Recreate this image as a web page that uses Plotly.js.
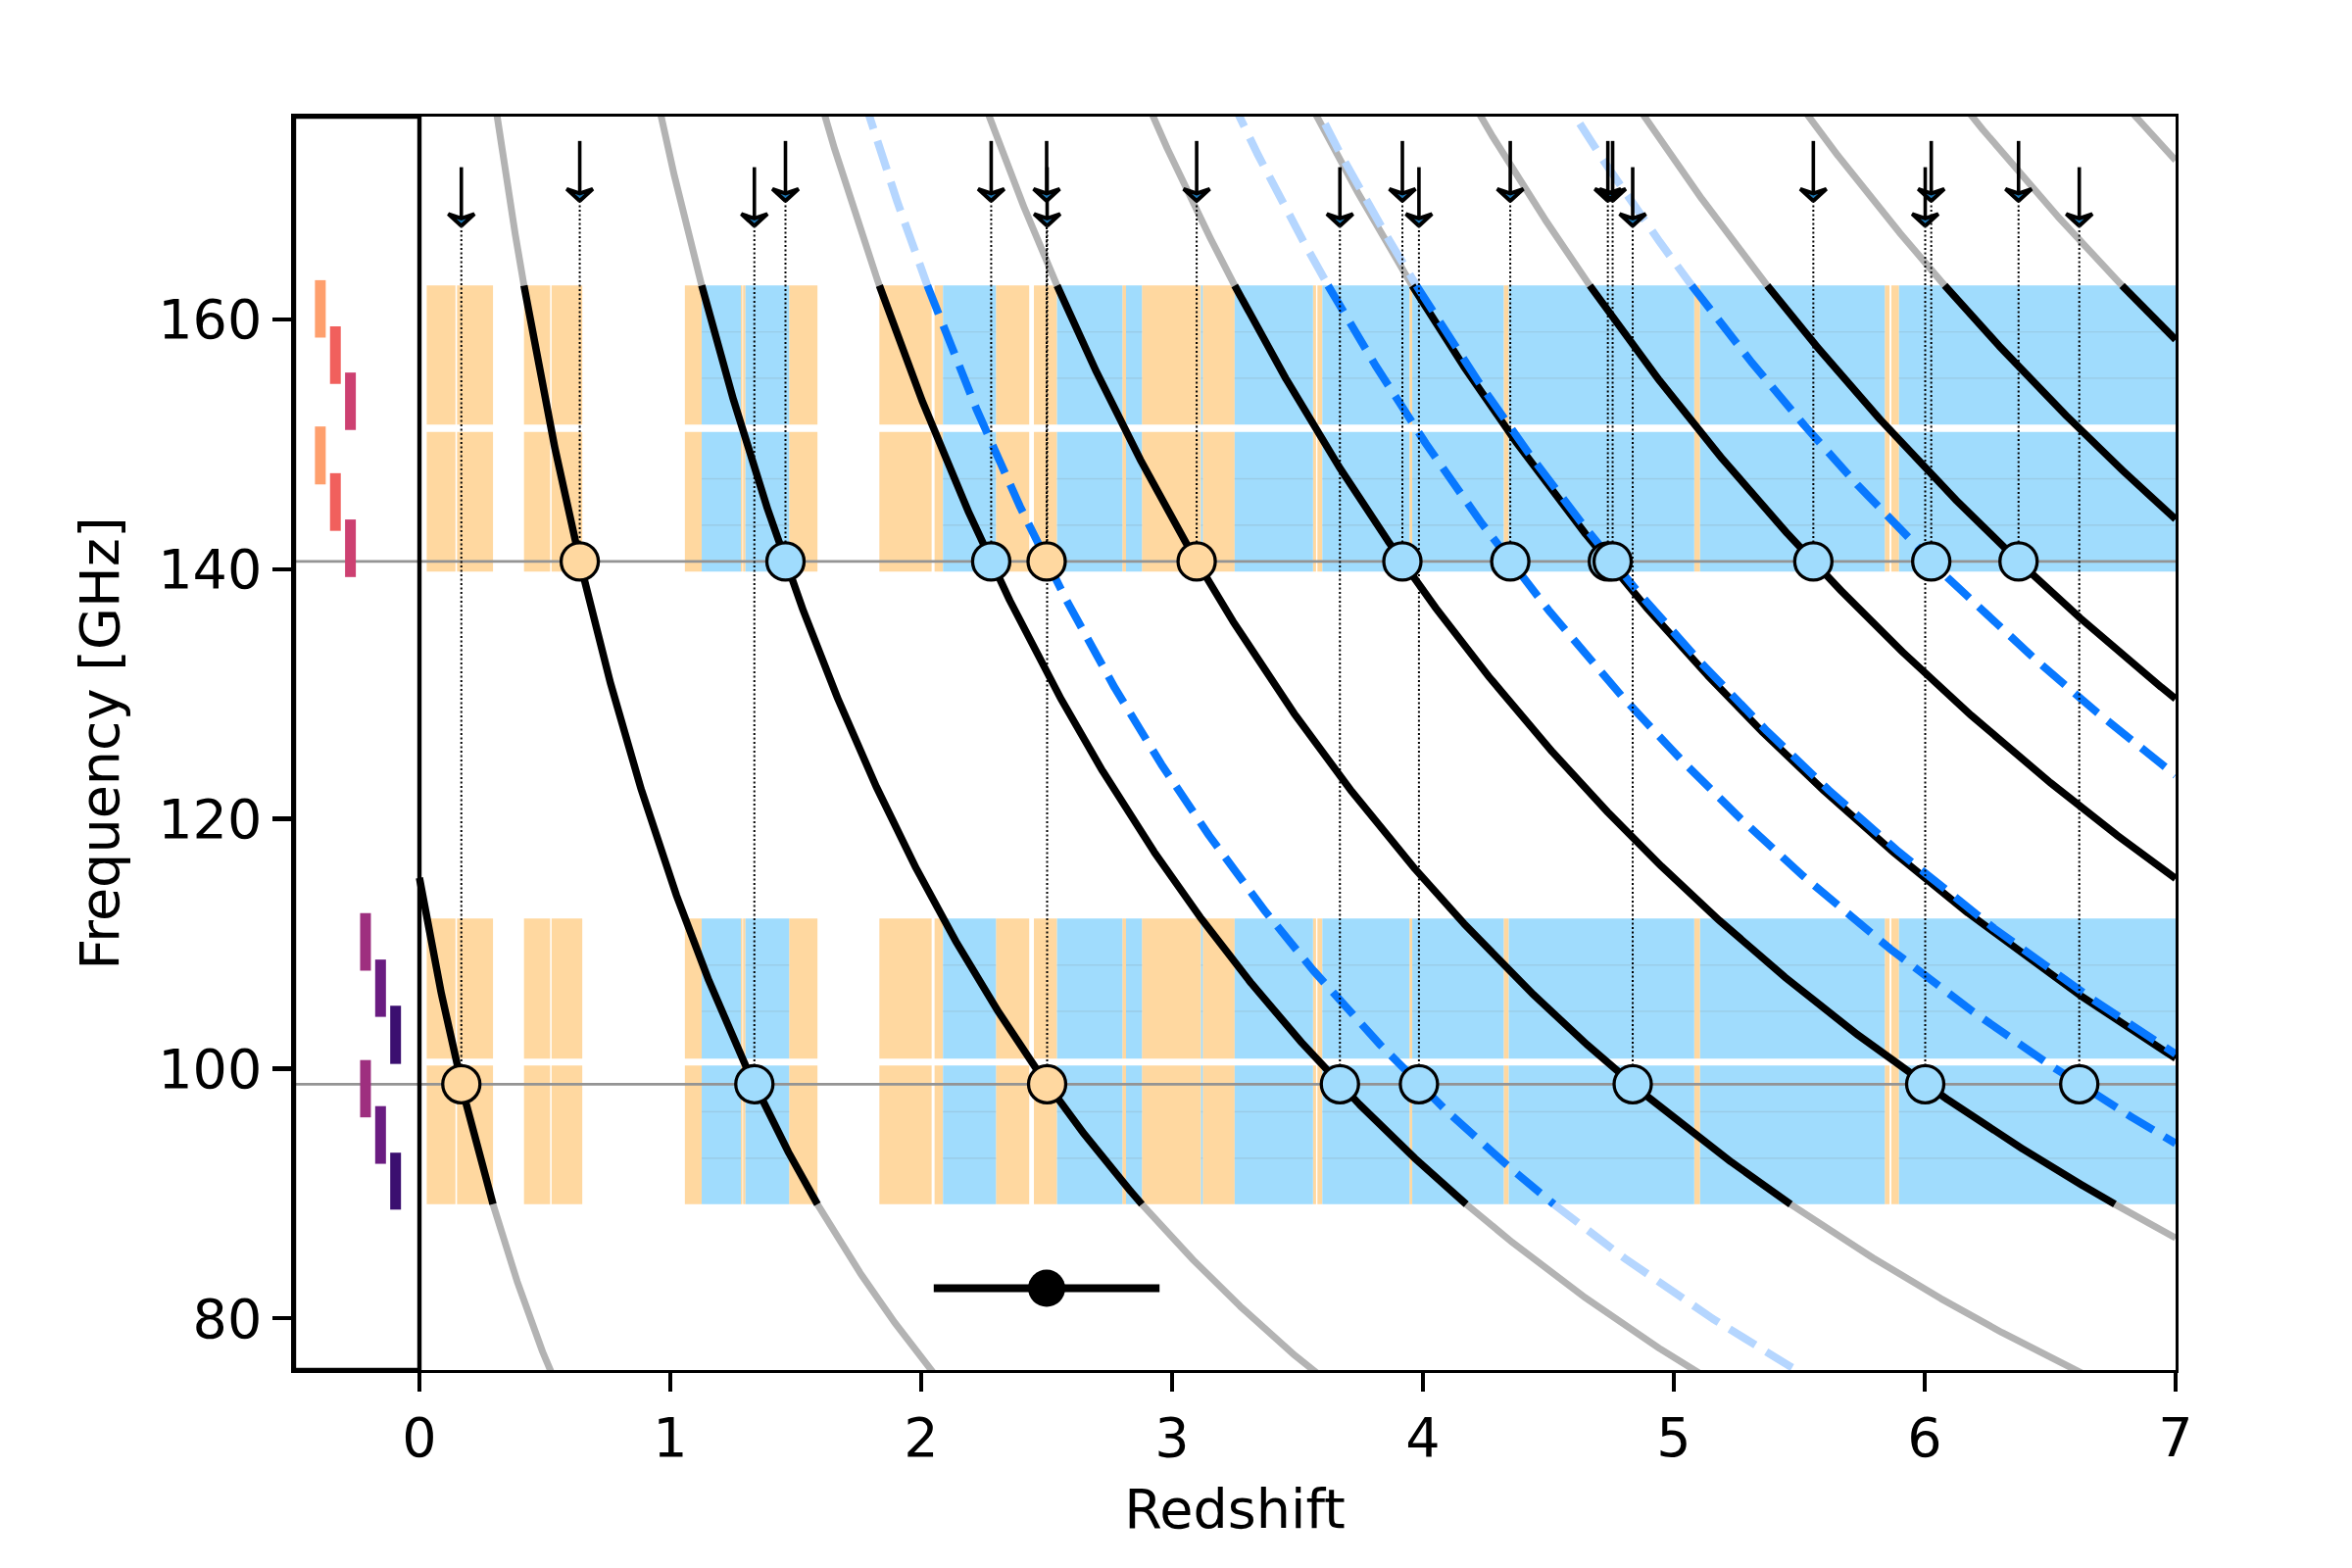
<!DOCTYPE html>
<html>
<head>
<meta charset="utf-8">
<script src="https://cdn.plot.ly/plotly-3.0.1.min.js"></script>
<style>html,body{margin:0;padding:0;background:#ffffff;}</style>
</head>
<body>
<div id="chart" style="width:2400px;height:1600px;"></div>
<script>
// ---------------- data ----------------
// CO ladder rest frequencies [GHz] (solid lines, used for colouring the coverage)
const coNames = ['CO(1-0)','CO(2-1)','CO(3-2)','CO(4-3)','CO(5-4)','CO(6-5)','CO(7-6)','CO(8-7)','CO(9-8)','CO(10-9)','CO(11-10)','CO(12-11)','CO(13-12)'];
const coRest  = [115.271, 230.538, 345.796, 461.041, 576.268, 691.473, 806.652, 921.800, 1036.912, 1151.985, 1267.014, 1381.995, 1496.923];
// other lines (dashed)
const otherNames = ['[CI](1-0)','H2O(211-202)','[CI](2-1)','H2O(202-111)'];
const otherRest  = [492.161, 752.033, 809.342, 987.927];
// spectral tunings: lower and upper sideband frequency ranges [GHz]
const tuningLSB = [[147.22,151.00],[143.50,147.26],[139.80,143.55],[96.52,100.25],[92.80,96.56],[89.13,92.83]];
const tuningUSB = [[158.98,162.72],[155.27,159.02],[151.58,155.32],[108.27,112.02],[104.57,108.30],[100.80,104.60]];
const tuningColors = ['#fe9f6d','#f1605d','#cd4071','#9e2f7f','#6a1c81','#3b0f70'];
// detected lines: observed frequencies and the redshift solutions at each
const obsFreq = [140.62, 98.75];
const zAtHigh = [0.639, 1.459, 2.279, 2.500, 3.098, 3.918, 4.348, 4.737, 4.756, 5.556, 6.026, 6.374];
const zAtLow  = [0.167, 1.335, 2.502, 3.669, 3.984, 4.836, 6.002, 6.616];
// photometric redshift
const photZ = [2.5];
const photZerr = [0.45];
const photFreq = [82.4];

// ---------------- styling ----------------
const ORANGE = '#ffd8a0', BLUE = '#a0dcfd';
const XMIN = -0.5, XMAX = 7, YMIN = 75.85, YMAX = 176.25;
const FS = 55.6;

// merged coverage windows
const allWins = tuningLSB.concat(tuningUSB).map(w => w.slice()).sort((a,b)=>a[0]-b[0]);
const windows = [];
for (const w of allWins) {
  if (windows.length && w[0] <= windows[windows.length-1][1] + 1e-6) {
    windows[windows.length-1][1] = Math.max(windows[windows.length-1][1], w[1]);
  } else windows.push(w.slice());
}
const fMin = Math.min(...windows.map(w=>w[0]));
const fMax = Math.max(...windows.map(w=>w[1]));
// internal tuning boundaries (inside merged windows)
const innerEdges = [];
for (const w of allWins) {
  for (const e of w) {
    if (!windows.some(m => Math.abs(m[0]-e) < 1e-6 || Math.abs(m[1]-e) < 1e-6)) innerEdges.push(e);
  }
}

function lineCount(z) {
  let n = 0;
  for (const nu0 of coRest) {
    const nu = nu0/(1+z);
    for (const w of windows) if (nu >= w[0] && nu <= w[1]) n++;
  }
  return n;
}

// redshift segments
let bps = [0, XMAX];
for (const nu0 of coRest) for (const w of windows) {
  for (const f of w) { const z = nu0/f - 1; if (z > 0 && z < XMAX) bps.push(z); }
}
bps.sort((a,b)=>a-b);
const segs = [];
for (let i=0;i<bps.length-1;i++) {
  const p=bps[i], q=bps[i+1];
  if (q-p < 1e-9) continue;
  const n = lineCount((p+q)/2);
  const c = n===0 ? null : (n===1 ? 'o' : 'b');
  if (segs.length && segs[segs.length-1].c === c && Math.abs(segs[segs.length-1].q - p) < 1e-9) segs[segs.length-1].q = q;
  else segs.push({p,q,c});
}

const traces = [];
function rectTrace(col, key) {
  const x=[], y=[];
  for (const s of segs) if (s.c===key) for (const w of windows) {
    x.push(s.p,s.q,s.q,s.p,s.p,null); y.push(w[0],w[0],w[1],w[1],w[0],null);
  }
  return {type:'scatter',mode:'lines',x,y,fill:'toself',fillcolor:col,line:{width:0,color:col},hoverinfo:'skip'};
}
traces.push(rectTrace(ORANGE,'o'));
traces.push(rectTrace(BLUE,'b'));
// faint tuning boundaries over blue
{
  const x=[], y=[];
  for (const s of segs) if (s.c==='b') for (const e of innerEdges) { x.push(s.p,s.q,null); y.push(e,e,null); }
  traces.push({type:'scatter',mode:'lines',x,y,line:{width:1.2,color:'rgba(150,185,205,0.3)'},hoverinfo:'skip'});
}
// horizontal lines at observed frequencies
{
  const x=[], y=[];
  for (const f of obsFreq) { x.push(XMIN,XMAX,null); y.push(f,f,null); }
  traces.push({type:'scatter',mode:'lines',x,y,line:{width:2.7,color:'#949494'},hoverinfo:'skip'});
}
// tuning bars in the left panel
const cap = 0.43;
for (let i=0;i<tuningLSB.length;i++) {
  const bx = -0.395 + 0.06*i;
  const L = tuningLSB[i], U = tuningUSB[i];
  traces.push({type:'scatter',mode:'lines',
    x:[bx,bx,null,bx,bx], y:[L[0]-cap,L[1]+cap,null,U[0]-cap,U[1]+cap],
    line:{width:11,color:tuningColors[i]},hoverinfo:'skip'});
}

// curves
function zGrid(nu0) {
  const zs = [];
  for (let k=0;k<=3500;k++) zs.push(k*0.002);
  for (const f of [fMin,fMax]) { const z = nu0/f-1; if (z>0 && z<XMAX) zs.push(z); }
  zs.sort((a,b)=>a-b);
  return zs;
}
function curvePair(nu0) {
  const zs = zGrid(nu0);
  const xi=[], yi=[], xo=[], yo=[];
  let prevIn = null, prevOut = null;
  for (const z of zs) {
    const nu = nu0/(1+z);
    const inside = nu >= fMin-1e-9 && nu <= fMax+1e-9;
    const outside = nu >= fMax-1e-9 || nu <= fMin+1e-9;
    if (inside) { xi.push(z); yi.push(nu); } else if (prevIn) { xi.push(null); yi.push(null); }
    if (outside && nu < 400) { xo.push(z); yo.push(nu); } else if (prevOut) { xo.push(null); yo.push(null); }
    prevIn = inside; prevOut = outside && nu < 400;
  }
  return {xi,yi,xo,yo};
}
const greyTraces=[], blackTraces=[], lightDash=[], darkDash=[];
for (const nu0 of coRest) {
  const c = curvePair(nu0);
  greyTraces.push({type:'scatter',mode:'lines',x:c.xo,y:c.yo,line:{width:7,color:'#b3b3b3'},hoverinfo:'skip'});
  blackTraces.push({type:'scatter',mode:'lines',x:c.xi,y:c.yi,line:{width:7.5,color:'#000000'},hoverinfo:'skip'});
}
for (const nu0 of otherRest) {
  const c = curvePair(nu0);
  lightDash.push({type:'scatter',mode:'lines',x:c.xo,y:c.yo,line:{width:8,color:'#b5d6ff',dash:'31px,13px'},hoverinfo:'skip'});
  darkDash.push({type:'scatter',mode:'lines',x:c.xi,y:c.yi,line:{width:8,color:'#0878ff',dash:'31px,13px'},hoverinfo:'skip'});
}
traces.push(...greyTraces, ...lightDash, ...blackTraces, ...darkDash);

// arrows + dotted drop lines
const arrowRows = [{top:174.3, tip:169.5}, {top:172.2, tip:167.5}];
const headH = 0.95, headW = 0.052;
const srcSets = [zAtHigh, zAtLow];
{
  const dx=[], dy=[], sx=[], sy=[], hx=[], hy=[];
  srcSets.forEach((zs, r) => {
    const row = arrowRows[r];
    for (const z of zs) {
      dx.push(z,z,null); dy.push(row.tip, obsFreq[r], null);
      sx.push(z,z,null); sy.push(row.top, row.tip+0.3, null);
      hx.push(z, z-headW, z, z+headW, z, null);
      hy.push(row.tip, row.tip+headH, row.tip+0.62*headH, row.tip+headH, row.tip, null);
    }
  });
  traces.push({type:'scatter',mode:'lines',x:dx,y:dy,line:{width:2,color:'#000000',dash:'2px,2.5px'},hoverinfo:'skip'});
  traces.push({type:'scatter',mode:'lines',x:sx,y:sy,line:{width:3.6,color:'#000000'},hoverinfo:'skip'});
  traces.push({type:'scatter',mode:'lines',x:hx,y:hy,fill:'toself',fillcolor:'#1f77b4',line:{width:4,color:'#000000'},hoverinfo:'skip'});
}
// circles
srcSets.forEach((zs, r) => {
  traces.push({type:'scatter',mode:'markers',x:zs,y:zs.map(()=>obsFreq[r]),
    marker:{size:38,color:zs.map(z => lineCount(z)===1 ? ORANGE : BLUE),line:{width:3.3,color:'#000000'}},hoverinfo:'skip'});
});
// photometric redshift
traces.push({type:'scatter',mode:'markers',x:photZ,y:photFreq,
  error_x:{type:'data',array:photZerr,visible:true,thickness:8,width:0,color:'#000000'},
  marker:{size:38,color:'#000000'},hoverinfo:'skip'});

const layout = {
  width:2400, height:1600,
  margin:{l:300,r:180,t:119,b:202,pad:0},
  paper_bgcolor:'#ffffff', plot_bgcolor:'#ffffff',
  showlegend:false,
  font:{family:'DejaVu Sans, sans-serif', size:FS, color:'#000000'},
  xaxis:{range:[XMIN,XMAX], tickvals:[0,1,2,3,4,5,6,7], ticktext:['0','1','2','3','4','5','6','7'],
    ticks:'outside', ticklen:19, tickwidth:4.4, tickcolor:'#000000',
    showgrid:false, zeroline:false, showline:true, mirror:true, linecolor:'#000000', linewidth:2.6,
    tickfont:{size:FS,family:'DejaVu Sans'},
    title:{text:'Redshift', font:{size:FS,family:'DejaVu Sans'}, standoff:22}},
  yaxis:{range:[YMIN,YMAX], tickvals:[80,100,120,140,160], ticktext:['80','100','120','140','160'],
    ticks:'outside', ticklen:19, tickwidth:4.4, tickcolor:'#000000',
    showgrid:false, zeroline:false, showline:true, mirror:true, linecolor:'#000000', linewidth:2.6,
    tickfont:{size:FS,family:'DejaVu Sans'},
    title:{text:'Frequency [GHz]', font:{size:FS,family:'DejaVu Sans'}, standoff:22}},
  shapes:[
    {type:'rect', xref:'x', yref:'paper', x0:XMIN, x1:0, y0:0, y1:1, line:{color:'#000000', width:4.4}, fillcolor:'rgba(0,0,0,0)', layer:'above'}
  ]
};

Plotly.newPlot('chart', traces, layout, {staticPlot:true, displayModeBar:false});
</script>
</body>
</html>
